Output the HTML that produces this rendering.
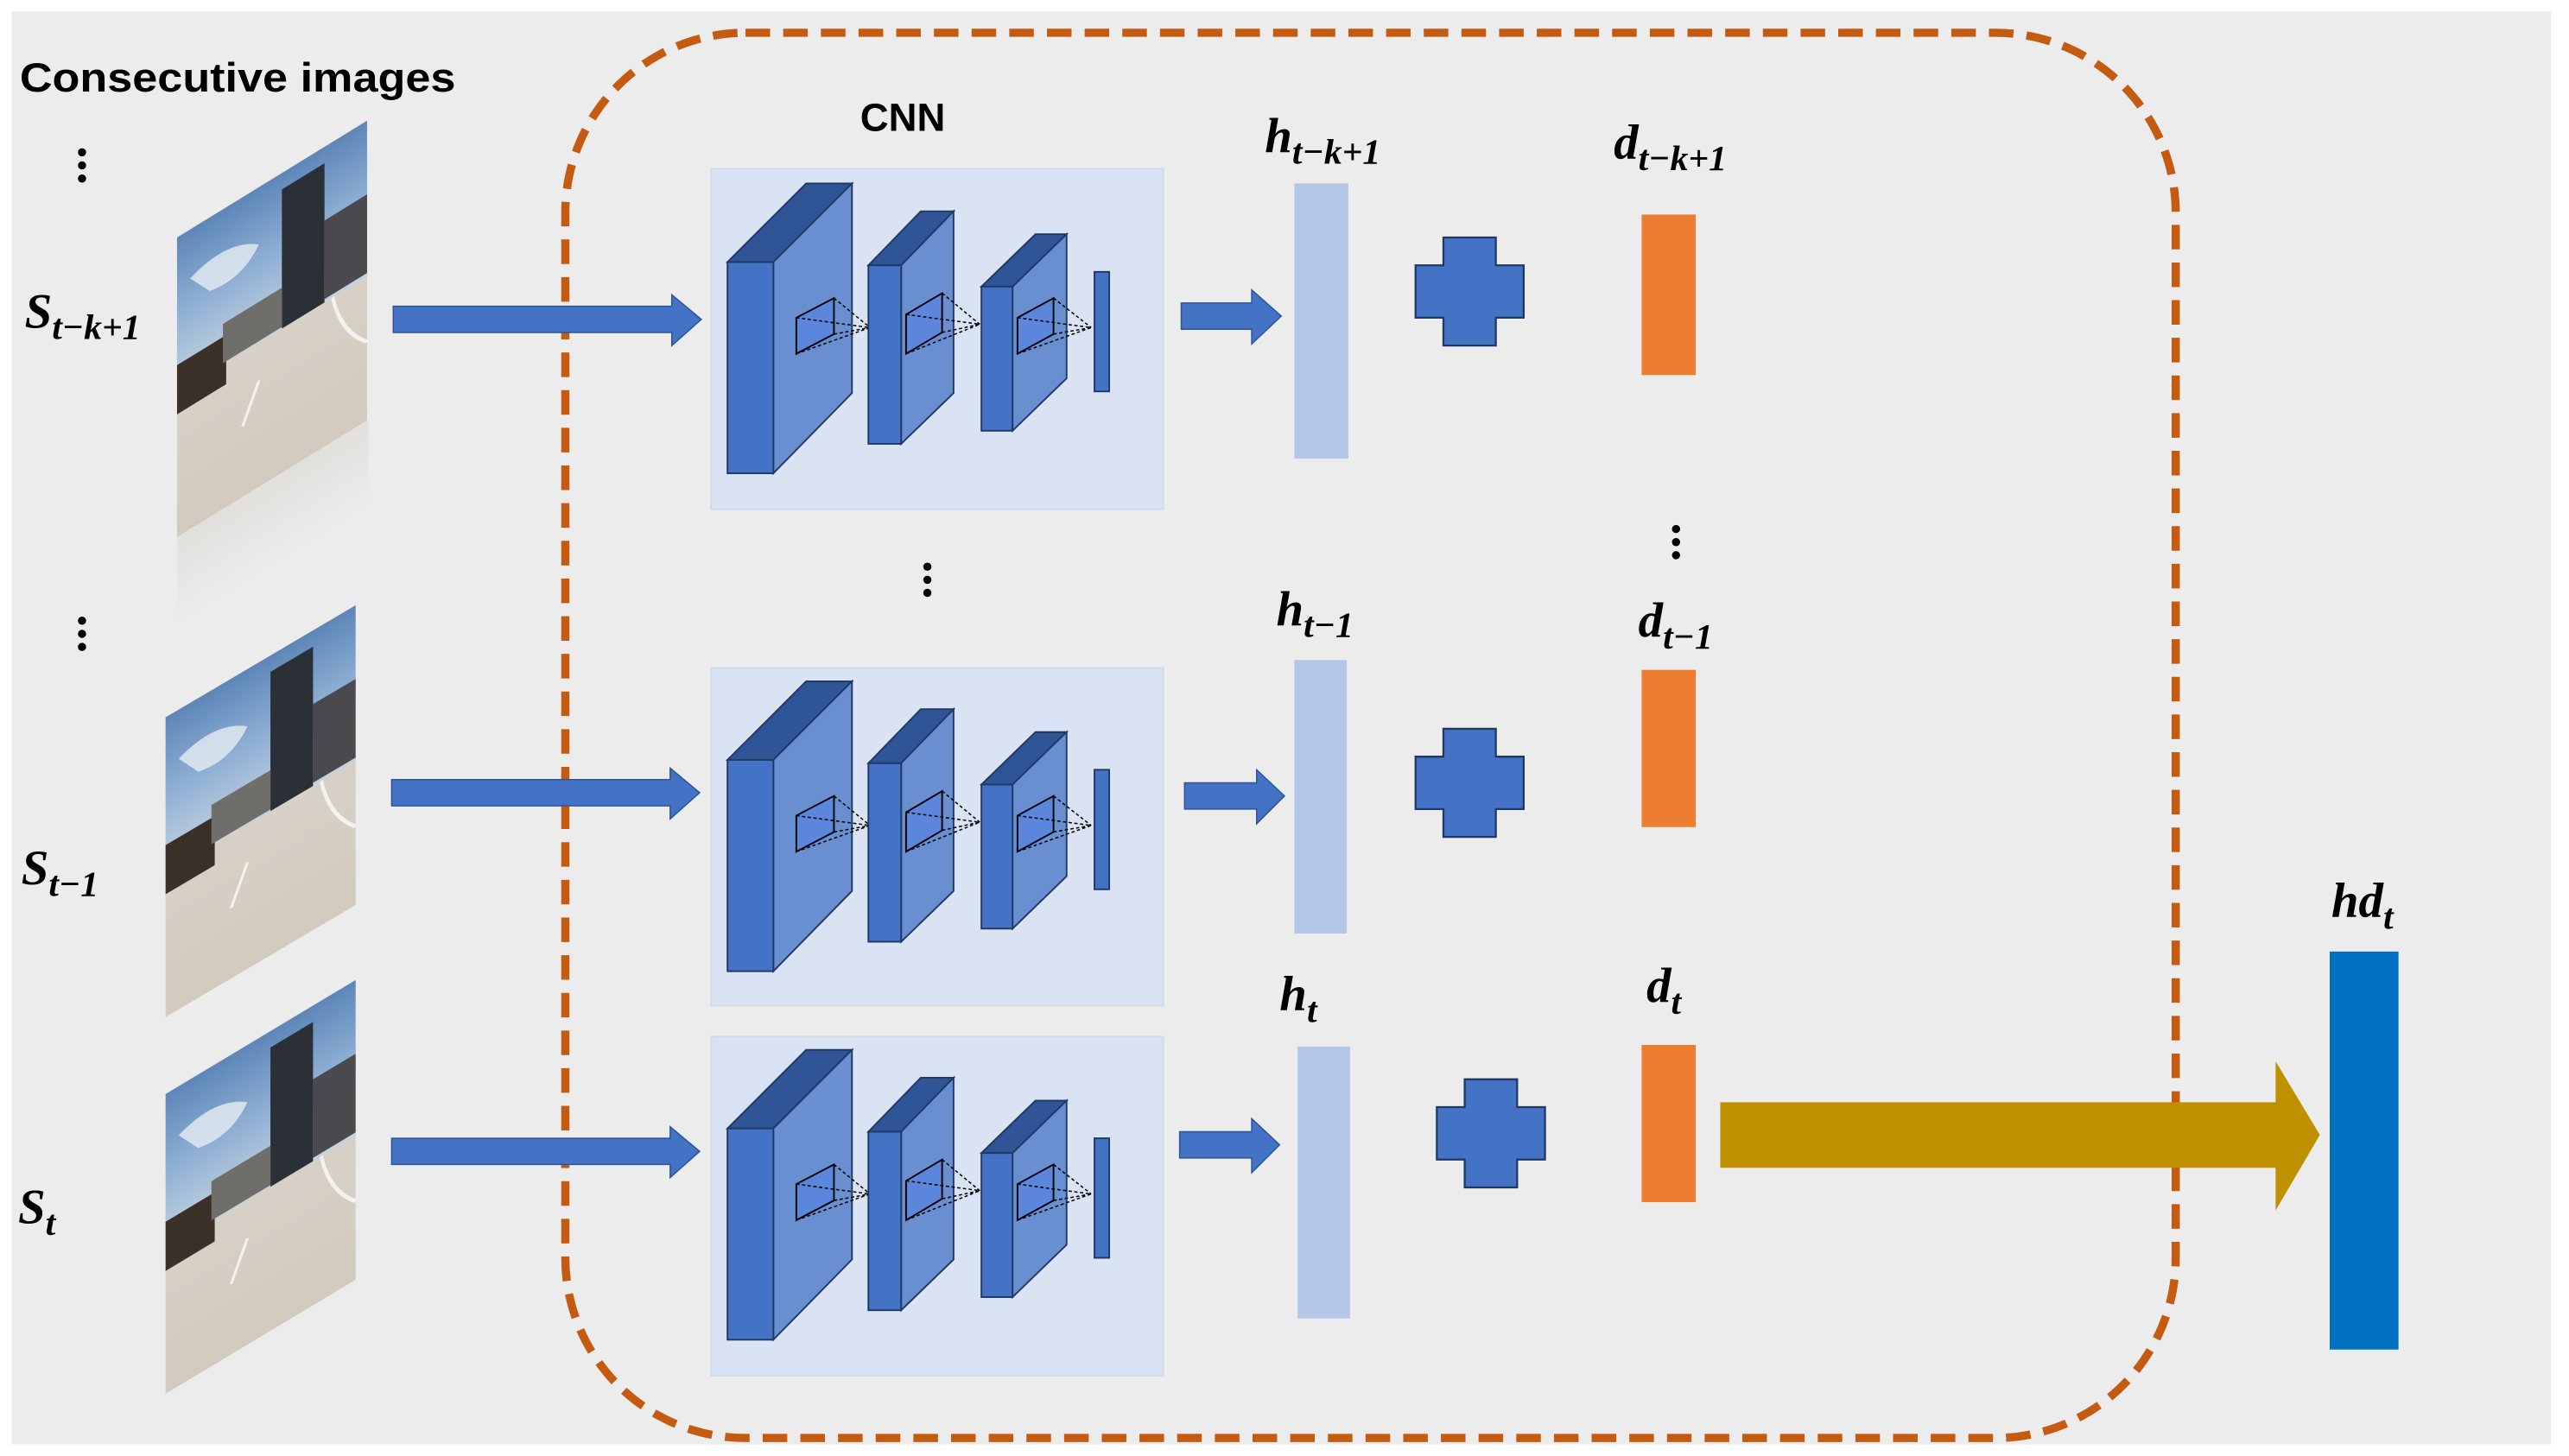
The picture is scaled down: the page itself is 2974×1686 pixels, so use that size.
<!DOCTYPE html>
<html><head><meta charset="utf-8"><style>
html,body{margin:0;padding:0;background:#fff;}
svg{display:block;}
.lab{font-family:"Liberation Serif",serif;font-style:italic;font-weight:bold;fill:#000;}
</style></head><body>
<svg width="2974" height="1686" viewBox="0 0 1568 889" xmlns="http://www.w3.org/2000/svg">
<defs>
<linearGradient id="sky" x1="0" y1="0" x2="0" y2="1">
<stop offset="0" stop-color="#5d86b8"/><stop offset="0.5" stop-color="#8fb0d4"/><stop offset="1" stop-color="#c6d3df"/>
</linearGradient>
<linearGradient id="road" x1="0" y1="0" x2="0" y2="1">
<stop offset="0" stop-color="#dcd8d0"/><stop offset="1" stop-color="#d2cabe"/>
</linearGradient>
<linearGradient id="refl" x1="0" y1="0" x2="0" y2="1">
<stop offset="0" stop-color="#dedbd6"/><stop offset="1" stop-color="#ececec"/>
</linearGradient>
<g id="img">
<rect x="0" y="0" width="116" height="183" fill="url(#road)"/>
<rect x="0" y="0" width="116" height="95" fill="url(#sky)"/>
<path d="M8 30 Q30 20 50 35 Q40 50 20 45 Z" fill="#e6edf3" opacity="0.8"/>
<rect x="64" y="10" width="26" height="85" fill="#2b2f36"/>
<rect x="90" y="45" width="26" height="48" fill="#4a4a4e"/>
<rect x="0" y="78" width="30" height="30" fill="#3a3028"/>
<rect x="28" y="70" width="36" height="24" fill="#6f6e6a"/>
<path d="M40 140 L50 118" stroke="#f4f2ee" stroke-width="2"/>
<path d="M95 95 Q100 120 116 135" stroke="#f4f2ee" stroke-width="2" fill="none"/>
</g>
<g id="cnn">
<polygon points="444,160 472,160 520,112 492,112" fill="#2f5597" stroke="#1f3864" stroke-width="1"/>
<polygon points="472,160 520,112 520,240 472,289" fill="#6a8fd0" stroke="#1f3864" stroke-width="1"/>
<rect x="444" y="160" width="28" height="129" fill="#4472c4" stroke="#1f3864" stroke-width="1"/>
<polygon points="486,194 509,182 509,204 486,216" fill="#5b86db" stroke="#000" stroke-width="1"/>
<path d="M486,194 L531,200 M509,182 L531,200 M486,216 L531,200 M509,204 L531,200" stroke="#000" stroke-width="0.8" stroke-dasharray="2 1.5"/>
<polygon points="530,162 550,162 582,129 562,129" fill="#2f5597" stroke="#1f3864" stroke-width="1"/>
<polygon points="550,162 582,129 582,240 550,271" fill="#6a8fd0" stroke="#1f3864" stroke-width="1"/>
<rect x="530" y="162" width="20" height="109" fill="#4472c4" stroke="#1f3864" stroke-width="1"/>
<polygon points="553,192 575,179 575,203 553,216" fill="#5b86db" stroke="#000" stroke-width="1"/>
<path d="M553,192 L598,198 M575,179 L598,198 M553,216 L598,198 M575,203 L598,198" stroke="#000" stroke-width="0.8" stroke-dasharray="2 1.5"/>
<polygon points="599,175 618,175 651,143 632,143" fill="#2f5597" stroke="#1f3864" stroke-width="1"/>
<polygon points="618,175 651,143 651,231 618,263" fill="#6a8fd0" stroke="#1f3864" stroke-width="1"/>
<rect x="599" y="175" width="19" height="88" fill="#4472c4" stroke="#1f3864" stroke-width="1"/>
<polygon points="621,194 643,182 643,204 621,216" fill="#5b86db" stroke="#000" stroke-width="1"/>
<path d="M621,194 L666,200 M643,182 L666,200 M621,216 L666,200 M643,204 L666,200" stroke="#000" stroke-width="0.8" stroke-dasharray="2 1.5"/>
<rect x="668" y="166" width="9" height="73" fill="#4472c4" stroke="#1f3864" stroke-width="1"/>
</g>
<g id="plus">
<path d="M-16,-33 H16 V-16 H33 V16 H16 V33 H-16 V16 H-33 V-16 H-16 Z" fill="#4472c4" stroke="#1f3864" stroke-width="1.2"/>
</g>
</defs>
<rect x="7" y="7" width="1550" height="875" fill="#ececec"/>

<g transform="translate(108,328) matrix(1,-0.615,0,1,0,0)"><rect x="0" y="0" width="117" height="55" fill="url(#refl)" opacity="0.7"/></g>
<g transform="translate(108,145) matrix(1,-0.615,0,1,0,0)"><use href="#img"/></g>
<g transform="translate(101,438) matrix(1,-0.59,0,1,0,0)"><use href="#img"/></g>
<g transform="translate(101,668) matrix(1,-0.6,0,1,0,0)"><use href="#img"/></g>

<text x="12" y="56" font-family="Liberation Sans, sans-serif" font-weight="bold" font-size="25" fill="#000" textLength="266" lengthAdjust="spacingAndGlyphs">Consecutive images</text>
<g fill="#000">
<circle cx="50" cy="93" r="2.5"/><circle cx="50" cy="101" r="2.5"/><circle cx="50" cy="109" r="2.5"/>
<circle cx="50" cy="379" r="2.5"/><circle cx="50" cy="387" r="2.5"/><circle cx="50" cy="395" r="2.5"/>
<circle cx="566" cy="346" r="2.5"/><circle cx="566" cy="354" r="2.5"/><circle cx="566" cy="362" r="2.5"/>
<circle cx="1023" cy="323" r="2.5"/><circle cx="1023" cy="331" r="2.5"/><circle cx="1023" cy="339" r="2.5"/>
</g>

<text class="lab" x="15" y="200" font-size="30">S<tspan font-size="22" dy="7">t−k+1</tspan></text>
<text class="lab" x="13" y="540" font-size="30">S<tspan font-size="22" dy="7">t−1</tspan></text>
<text class="lab" x="11" y="747" font-size="30">S<tspan font-size="22" dy="7">t</tspan></text>

<rect x="345" y="20" width="983" height="858" rx="110" ry="110" fill="none" stroke="#c55a11" stroke-width="5" stroke-dasharray="15 8"/>

<text x="525" y="80" font-family="Liberation Sans, sans-serif" font-weight="bold" font-size="24" fill="#000">CNN</text>

<rect x="434" y="103" width="276" height="208" fill="#dae3f3" stroke="#d0d9e8" stroke-width="1"/>
<rect x="434" y="408" width="276" height="206" fill="#dae3f3" stroke="#d0d9e8" stroke-width="1"/>
<rect x="434" y="633" width="276" height="207" fill="#dae3f3" stroke="#d0d9e8" stroke-width="1"/>
<use href="#cnn"/>
<use href="#cnn" transform="translate(0,304)"/>
<use href="#cnn" transform="translate(0,529)"/>

<g fill="#4472c4" stroke="#2f5597" stroke-width="0.8">
<polygon points="240,187 410,187 410,180 428,195 410,211 410,203 240,203"/>
<polygon points="239,476 409,476 409,469 427,484 409,500 409,492 239,492"/>
<polygon points="239,695 409,695 409,688 427,703 409,719 409,711 239,711"/>
<polygon points="721,185 764,185 764,177 782,193 764,210 764,201 721,201"/>
<polygon points="723,478 767,478 767,470 784,486 767,503 767,494 723,494"/>
<polygon points="720,691 764,691 764,683 781,699 764,716 764,707 720,707"/>
</g>

<rect x="790" y="112" width="33" height="168" fill="#b4c7e7"/>
<rect x="790" y="403" width="32" height="167" fill="#b4c7e7"/>
<rect x="792" y="639" width="32" height="166" fill="#b4c7e7"/>

<use href="#plus" transform="translate(897,178)"/>
<use href="#plus" transform="translate(897,478)"/>
<use href="#plus" transform="translate(910,692)"/>

<rect x="1002" y="131" width="33" height="98" fill="#ed7d31"/>
<rect x="1002" y="409" width="33" height="96" fill="#ed7d31"/>
<rect x="1002" y="638" width="33" height="96" fill="#ed7d31"/>

<polygon points="1050,673 1389,673 1389,648 1416,693 1389,739 1389,713 1050,713" fill="#bf9000"/>
<rect x="1422" y="581" width="42" height="243" fill="#0070c0"/>

<text class="lab" x="772" y="93" font-size="30">h<tspan font-size="22" dy="7">t−k+1</tspan></text>
<text class="lab" x="985" y="97" font-size="30">d<tspan font-size="22" dy="7">t−k+1</tspan></text>
<text class="lab" x="779" y="382" font-size="30">h<tspan font-size="22" dy="7">t−1</tspan></text>
<text class="lab" x="1000" y="389" font-size="30">d<tspan font-size="22" dy="7">t−1</tspan></text>
<text class="lab" x="781" y="617" font-size="30">h<tspan font-size="22" dy="7">t</tspan></text>
<text class="lab" x="1005" y="612" font-size="30">d<tspan font-size="22" dy="7">t</tspan></text>
<text class="lab" x="1423" y="560" font-size="30">hd<tspan font-size="22" dy="7">t</tspan></text>
</svg>
</body></html>
